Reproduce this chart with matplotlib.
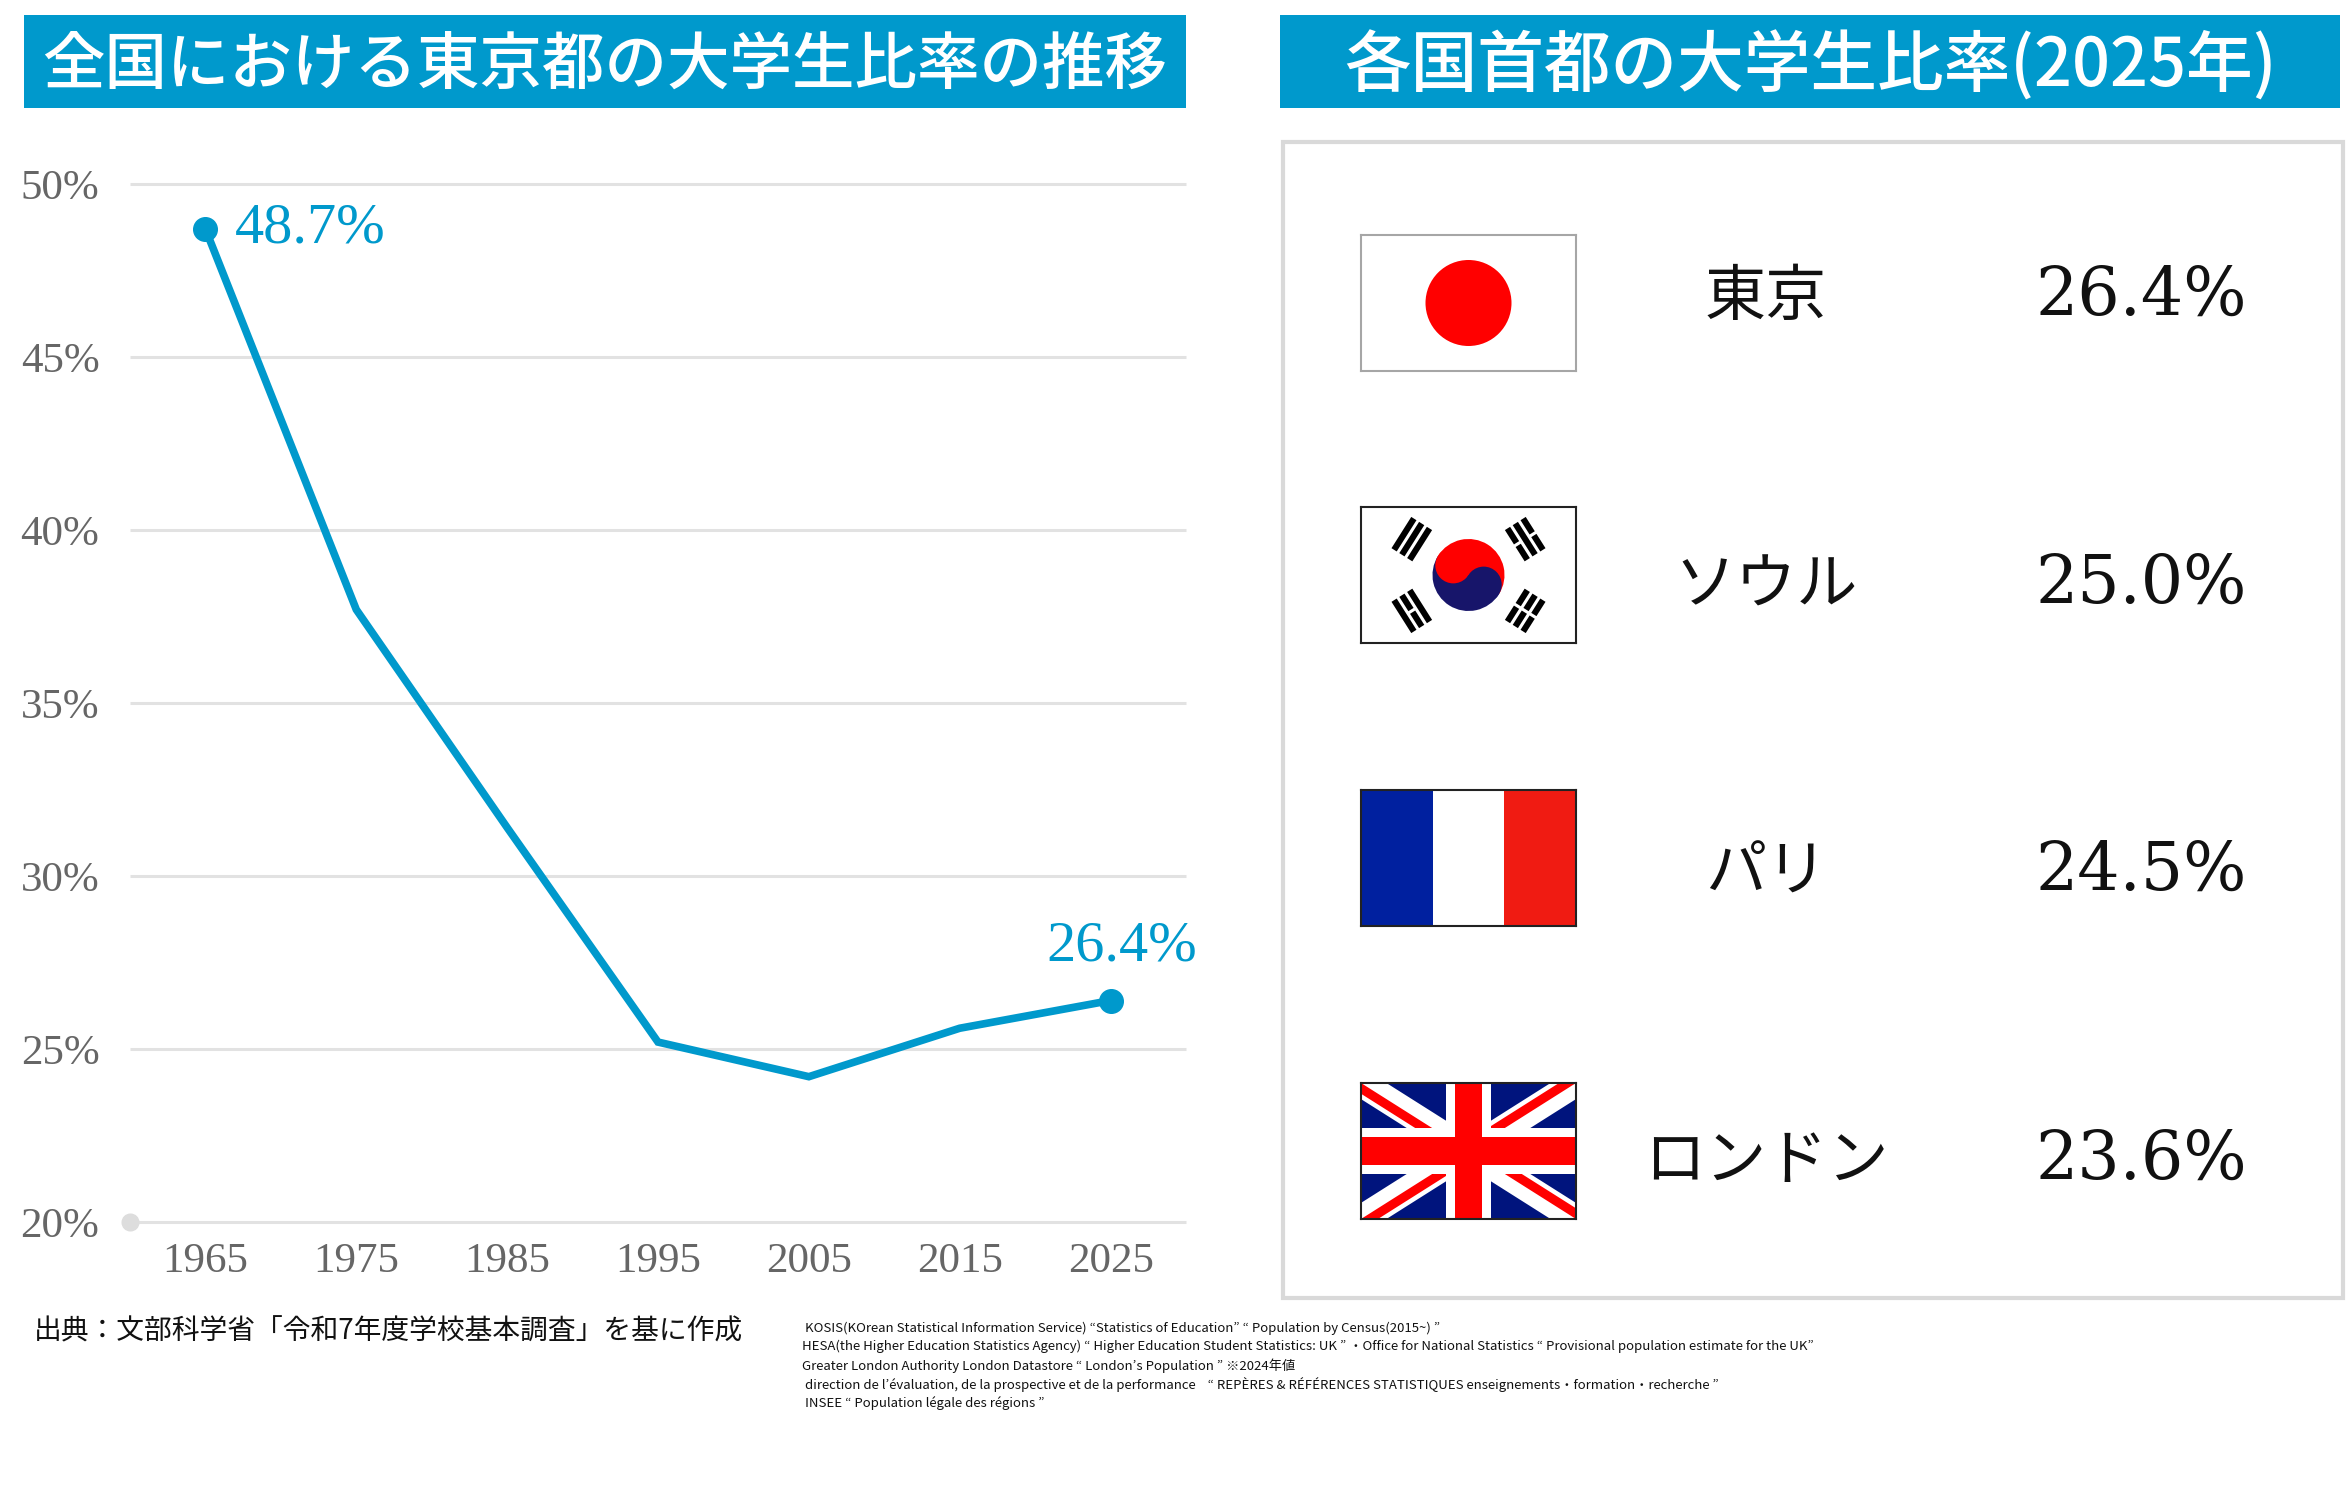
import numpy as np
import matplotlib
matplotlib.use("Agg")
import matplotlib.pyplot as plt
from matplotlib.patches import Rectangle, Circle, Wedge, Polygon

plt.rcParams['font.family'] = ['Noto Sans CJK JP', 'DejaVu Sans']

# ---- data ----
years = [1965, 1975, 1985, 1995, 2005, 2015, 2025]
tokyo_share = [48.7, 37.7, 31.4, 25.2, 24.2, 25.6, 26.4]
y_ticks = [20, 25, 30, 35, 40, 45, 50]

cities = ['東京', 'ソウル', 'パリ', 'ロンドン']
flags = ['jp', 'kr', 'fr', 'uk']
capital_share = [26.4, 25.0, 24.5, 23.6]

left_title = '全国における東京都の大学生比率の推移'
right_title = '各国首都の大学生比率(2025年)'
source_jp = '出典：文部科学省「令和7年度学校基本調査」を基に作成'
source_en = [
    ' KOSIS(KOrean Statistical Information Service) “Statistics of Education” “ Population by Census(2015~) ”',
    'HESA(the Higher Education Statistics Agency) “ Higher Education Student Statistics: UK ” ・Office for National Statistics “ Provisional population estimate for the UK”',
    'Greater London Authority London Datastore “ London’s Population ” ※2024年値',
    ' direction de l’évaluation, de la prospective et de la performance    “ REPÈRES & RÉFÉRENCES STATISTIQUES enseignements・formation・recherche ”',
    ' INSEE “ Population légale des régions ”',
]

BLUE = '#0099CC'
W, H = 2347, 1511


def frac(x0, y0, x1, y1):
    return [x0 / W, 1 - y1 / H, (x1 - x0) / W, (y1 - y0) / H]


fig = plt.figure(figsize=(W / 100, H / 100), dpi=100)
fig.patch.set_facecolor('white')

# background canvas in pixel coordinates
cv = fig.add_axes([0, 0, 1, 1])
cv.set_xlim(0, W)
cv.set_ylim(H, 0)
cv.axis('off')

cv.add_patch(Rectangle((24, 15), 1162, 93, color=BLUE, lw=0))
cv.text(605, 66, left_title, ha='center', va='center', color='white',
        fontsize=45, fontweight='medium')
cv.add_patch(Rectangle((1280, 15), 1060, 93, color=BLUE, lw=0))
cv.text(1810, 66, right_title, ha='center', va='center', color='white',
        fontsize=48, fontweight='medium')

cv.add_patch(Rectangle((1283, 142), 1060, 1156, fill=False,
                       edgecolor='#d9d9d9', lw=3))

cv.text(34, 1331, source_jp, ha='left', va='center', fontsize=20, color='#111111')
for i, line in enumerate(source_en):
    cv.text(802, 1328 + i * 18.7, line, ha='left', va='center',
            fontsize=9.5, color='#111111')

# ---- line chart ----
ax = fig.add_axes(frac(130, 184, 1186, 1222))
ax.set_xlim(1960, 2030)
ax.set_ylim(20, 50)
for s in ax.spines.values():
    s.set_visible(False)
ax.patch.set_alpha(0)
ax.hlines(y_ticks, 1960, 2030, color='#e2e2e2', lw=2.2, clip_on=False, zorder=1)
ax.plot([1960], [20], 'o', color='#dddddd', ms=12, clip_on=False, zorder=2)
ax.plot(years, tokyo_share, color=BLUE, lw=5.5, clip_on=False, zorder=3,
        solid_joinstyle='miter')
ax.plot([years[0], years[-1]], [tokyo_share[0], tokyo_share[-1]], 'o',
        color=BLUE, ms=17, clip_on=False, zorder=4)

ax.set_xticks(years)
ax.set_xticklabels([str(y) for y in years])
ax.set_yticks(y_ticks)
ax.set_yticklabels([f'{v}%' for v in y_ticks])
ax.tick_params(length=0, labelcolor='#666666', labelsize=31)
ax.tick_params(axis='x', pad=15)
ax.tick_params(axis='y', pad=22)
for lab in ax.get_xticklabels() + ax.get_yticklabels():
    lab.set_fontfamily('Liberation Serif')

ax.annotate(f'{tokyo_share[0]:.1f}%', (years[0], tokyo_share[0]),
            xytext=(21, 0), textcoords='offset points', ha='left', va='center',
            color=BLUE, fontsize=42, family='Liberation Serif')
ax.annotate(f'{tokyo_share[-1]:.1f}%', (years[-1], tokyo_share[-1]),
            xytext=(8, 39), textcoords='offset points', ha='center', va='center',
            color=BLUE, fontsize=42, family='Liberation Serif')

# ---- capital panel ----
flag_y = [303, 575, 858, 1151]
label_y = [296, 584, 871, 1160]
FW, FH = 215, 136


def draw_jp(a):
    a.add_patch(Rectangle((0, 0), FW, FH, color='white'))
    a.add_patch(Circle((FW / 2, FH / 2), 43, color='#ff0000', lw=0))


def bar(a, c, phi, d, t0, t1, th):
    u = np.array([np.cos(phi), np.sin(phi)])
    v = np.array([-np.sin(phi), np.cos(phi)])
    pts = [c + (d - th / 2) * u + t0 * v, c + (d + th / 2) * u + t0 * v,
           c + (d + th / 2) * u + t1 * v, c + (d - th / 2) * u + t1 * v]
    a.add_patch(Polygon(pts, closed=True, color='black', lw=0))


def draw_kr(a):
    a.add_patch(Rectangle((0, 0), FW, FH, color='white'))
    c = np.array([FW / 2, FH / 2])
    r = 36
    ang = np.degrees(np.arctan2(FH, FW))
    a.add_patch(Wedge(c, r, -ang, 180 - ang, color='#ff0000', lw=0))
    a.add_patch(Wedge(c, r, 180 - ang, 360 - ang, color='#17156a', lw=0))
    t = np.radians(ang)
    a.add_patch(Circle(c + r / 2 * np.array([-np.cos(t), np.sin(t)]), r / 2,
                       color='#ff0000', lw=0))
    a.add_patch(Circle(c + r / 2 * np.array([np.cos(t), -np.sin(t)]), r / 2,
                       color='#17156a', lw=0))
    u = 74
    th, gap, half = u / 12, u / 24, u / 4
    trigrams = {180 - ang: [1, 1, 1], ang: [0, 1, 0],
                180 + ang: [1, 0, 1], -ang: [0, 0, 0]}
    for phi, pattern in trigrams.items():
        p = np.radians(phi)
        for k, solid in enumerate(pattern):
            d = 0.74 * u + th / 2 + k * (th + gap)
            if solid:
                bar(a, c, p, d, -half, half, th)
            else:
                bar(a, c, p, d, -half, -gap / 2, th)
                bar(a, c, p, d, gap / 2, half, th)


def draw_fr(a):
    for i, col in enumerate(['#00209f', 'white', '#f01b12']):
        a.add_patch(Rectangle((i * FW / 3, 0), FW / 3, FH, color=col, lw=0))


def draw_uk(a):
    red, navy = '#ff0000', '#00147d'
    a.add_patch(Rectangle((0, 0), FW, FH, color=navy))
    c = np.array([FW / 2, FH / 2])
    s = FH / 30
    corners = [(FW, FH), (0, FH), (0, 0), (FW, 0)]
    for band, col in [((-3 * s, 3 * s), 'white'), ((0, 2 * s), red)]:
        for cx, cy in corners:
            dv = np.array([cx, cy]) - c
            dv = dv / np.hypot(*dv)
            n = np.array([-dv[1], dv[0]])
            far = c + dv * 400
            pts = [c + band[0] * n, c + band[1] * n, far + band[1] * n, far + band[0] * n]
            a.add_patch(Polygon(pts, closed=True, color=col, lw=0))
    a.add_patch(Rectangle((c[0] - 5 * s, 0), 10 * s, FH, color='white', lw=0))
    a.add_patch(Rectangle((0, c[1] - 5 * s), FW, 10 * s, color='white', lw=0))
    a.add_patch(Rectangle((c[0] - 3 * s, 0), 6 * s, FH, color=red, lw=0))
    a.add_patch(Rectangle((0, c[1] - 3 * s), FW, 6 * s, color=red, lw=0))


drawers = {'jp': draw_jp, 'kr': draw_kr, 'fr': draw_fr, 'uk': draw_uk}
borders = {'jp': '#a6a6a6', 'kr': '#222222', 'fr': '#222222', 'uk': '#222222'}

for i, (city, flag, val) in enumerate(zip(cities, flags, capital_share)):
    yc = flag_y[i]
    fa = fig.add_axes(frac(1361, yc - FH / 2, 1361 + FW, yc + FH / 2))
    fa.set_xlim(0, FW)
    fa.set_ylim(0, FH)
    fa.set_xticks([])
    fa.set_yticks([])
    drawers[flag](fa)
    for sp in fa.spines.values():
        sp.set_color(borders[flag])
        sp.set_linewidth(1.5)
    cv.text(1766, label_y[i] + 2, city, ha='center', va='center', fontsize=44,
            color='#111111')
    cv.text(2141, label_y[i], f'{val:.1f}%', ha='center', va='center', fontsize=48,
            color='#111111', family='DejaVu Serif')

fig.savefig('out.png', dpi=100, facecolor='white')
